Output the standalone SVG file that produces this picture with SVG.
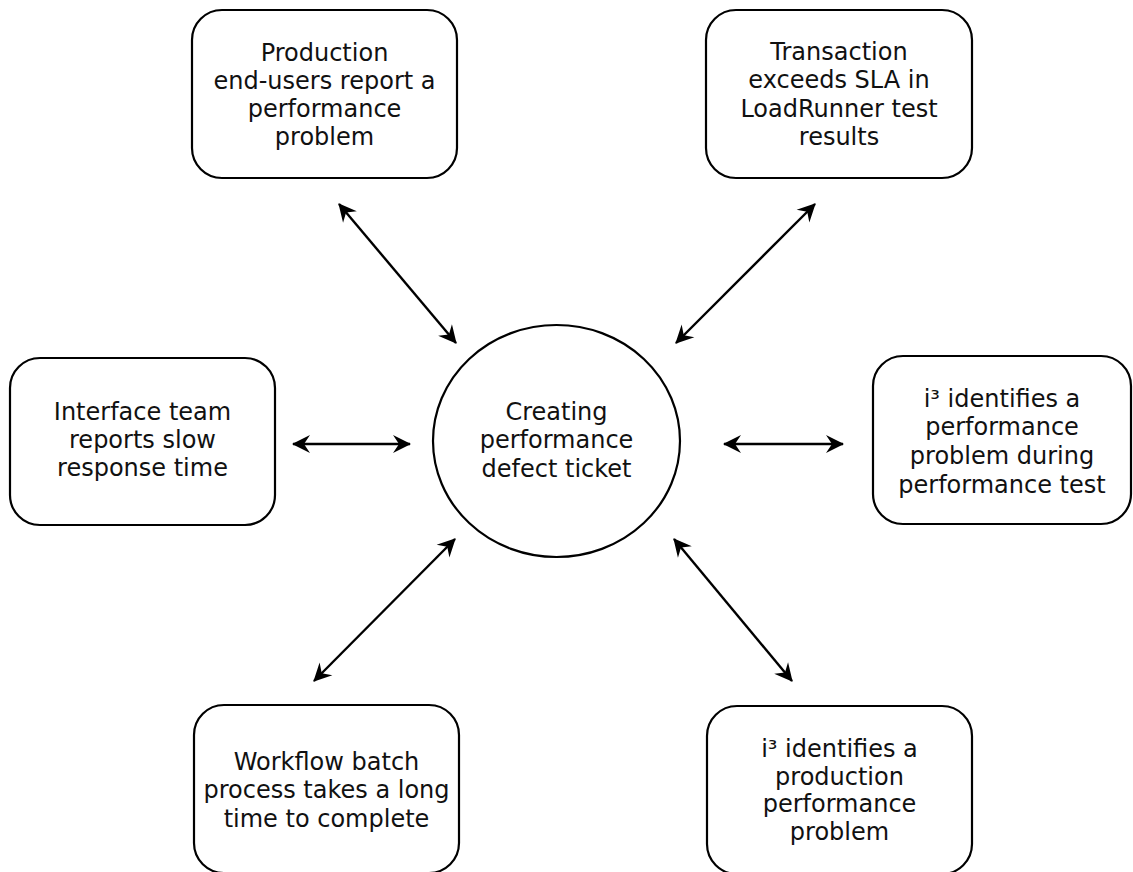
<svg xmlns="http://www.w3.org/2000/svg" width="1133" height="872" viewBox="0 0 1133 872">
  <style>
    .box { fill: #ffffff; stroke: #000000; stroke-width: 2.2; }
    .label { font-family: "DejaVu Sans", Verdana, sans-serif; font-size: 24px; fill: #111111; text-anchor: middle; }
    .link { stroke: #000000; stroke-width: 2.4; fill: none; marker-start: url(#head); marker-end: url(#head); }
  </style>
  <defs>
    <!-- notched double-ended arrowhead, same size on every connector -->
    <marker id="head" viewBox="-20 -10 22 20" refX="0" refY="0" markerWidth="22" markerHeight="20" markerUnits="userSpaceOnUse" orient="auto-start-reverse">
      <path d="M1,0 L-17,-9 L-11,0 L-17,9 Z" fill="#000000"/>
    </marker>
  </defs>
  <rect width="1133" height="872" fill="#ffffff"/>

  <g id="connectors">
    <line class="link" x1="339" y1="204" x2="456" y2="343"/>
    <line class="link" x1="815" y1="204" x2="676" y2="343"/>
    <line class="link" x1="293" y1="444" x2="410" y2="444"/>
    <line class="link" x1="724" y1="444" x2="843" y2="444"/>
    <line class="link" x1="455" y1="539" x2="314" y2="681"/>
    <line class="link" x1="674" y1="539" x2="792" y2="681"/>
  </g>

  <g id="center">
    <ellipse class="box" cx="556.5" cy="441" rx="123.5" ry="116"/>
    <text class="label" x="556.5" y="420">Creating</text>
    <text class="label" x="556.5" y="448">performance</text>
    <text class="label" x="556.5" y="477">defect ticket</text>
  </g>

  <g id="production-users">
    <rect class="box" x="192" y="10" width="265" height="168" rx="30" ry="30"/>
    <text class="label" x="324.5" y="61">Production</text>
    <text class="label" x="324.5" y="89">end-users report a</text>
    <text class="label" x="324.5" y="117">performance</text>
    <text class="label" x="324.5" y="145">problem</text>
  </g>

  <g id="loadrunner-sla">
    <rect class="box" x="706" y="10" width="266" height="168" rx="30" ry="30"/>
    <text class="label" x="839" y="60">Transaction</text>
    <text class="label" x="839" y="88">exceeds SLA in</text>
    <text class="label" x="839" y="117">LoadRunner test</text>
    <text class="label" x="839" y="145">results</text>
  </g>

  <g id="interface-team">
    <rect class="box" x="10" y="358" width="265" height="167" rx="30" ry="30"/>
    <text class="label" x="142.5" y="420">Interface team</text>
    <text class="label" x="142.5" y="448">reports slow</text>
    <text class="label" x="142.5" y="476">response time</text>
  </g>

  <g id="i3-perf-test">
    <rect class="box" x="873" y="356" width="258" height="168" rx="30" ry="30"/>
    <text class="label" x="1002" y="407">i³ identifies a</text>
    <text class="label" x="1002" y="435">performance</text>
    <text class="label" x="1002" y="464">problem during</text>
    <text class="label" x="1002" y="493">performance test</text>
  </g>

  <g id="workflow-batch">
    <rect class="box" x="194" y="705" width="265" height="168" rx="30" ry="30"/>
    <text class="label" x="326.5" y="770">Workflow batch</text>
    <text class="label" x="326.5" y="798">process takes a long</text>
    <text class="label" x="326.5" y="827">time to complete</text>
  </g>

  <g id="i3-production">
    <rect class="box" x="707" y="706" width="265" height="168" rx="30" ry="30"/>
    <text class="label" x="839.5" y="757">i³ identifies a</text>
    <text class="label" x="839.5" y="785">production</text>
    <text class="label" x="839.5" y="812">performance</text>
    <text class="label" x="839.5" y="840">problem</text>
  </g>
</svg>
